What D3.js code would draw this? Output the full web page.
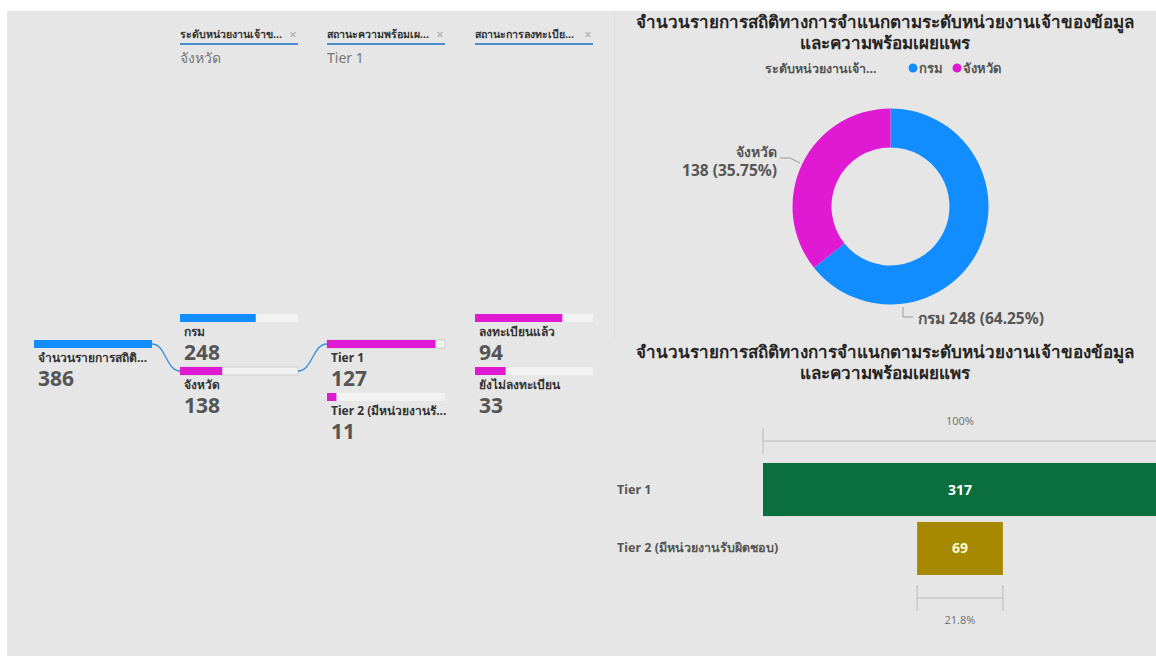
<!DOCTYPE html>
<html><head><meta charset="utf-8">
<script src="https://cdn.jsdelivr.net/npm/d3@7"></script>
<style>
html,body{margin:0;padding:0;background:#fff;}
svg{display:block;font-family:"Noto Sans","Open Sans",sans-serif;}
</style></head><body>
<svg id="c" width="1156" height="657"></svg>
<script>
// ---------- DATA ----------
const filterHeaders = ["ระดับหน่วยงานเจ้าข...", "สถานะความพร้อมเผ...", "สถานะการลงทะเบีย..."];
const filterValues = ["จังหวัด", "Tier 1", ""];
const rootLabel = "จำนวนรายการสถิติ...";
const rootValue = 386;
const levelCategories = ["กรม", "จังหวัด"];
const levelValues = [248, 138];
const tierCategories = ["Tier 1", "Tier 2 (มีหน่วยงานรั..."];
const tierValues = [127, 11];
const regCategories = ["ลงทะเบียนแล้ว", "ยังไม่ลงทะเบียน"];
const regValues = [94, 33];
const chartTitle = ["จำนวนรายการสถิติทางการจำแนกตามระดับหน่วยงานเจ้าของข้อมูล", "และความพร้อมเผยแพร"];
const legendTitle = "ระดับหน่วยงานเจ้า...";
const donutCategories = ["กรม", "จังหวัด"];
const donutValues = [248, 138];
const funnelCategories = ["Tier 1", "Tier 2 (มีหน่วยงานรับผิดชอบ)"];
const funnelValues = [317, 69];

const BLUE = "#118DFF", MAG = "#E01AD2", GREEN = "#0B6E3D", GOLD = "#A68900";
const svg = d3.select("#c");
svg.append("rect").attr("x",7).attr("y",11).attr("width",1149).attr("height",645).attr("fill","#e6e6e6");
svg.append("line").attr("x1",614.5).attr("x2",614.5).attr("y1",11).attr("y2",338).attr("stroke","#dedede");

// ---------- DECOMPOSITION TREE ----------
const headerX = [180, 327, 475];
const headerW = 118;
filterHeaders.forEach((h,i)=>{
  const g = svg.append("g").attr("transform",`translate(${headerX[i]},0)`);
  g.append("text").attr("x",0).attr("y",38).text(h).attr("font-size",10.6).attr("font-weight","bold").attr("fill","#333");
  g.append("text").attr("x",headerW-5).attr("y",39).text("×").attr("font-size",13).attr("fill","#aaa").attr("text-anchor","middle");
  g.append("line").attr("x1",0).attr("x2",headerW).attr("y1",44).attr("y2",44).attr("stroke","#4a90d0").attr("stroke-width",2);
  g.append("text").attr("x",0).attr("y",63).text(filterValues[i]).attr("font-size",14).attr("fill","#777");
});

const barW = 118, barH = 8;
function node(x, y, value, total, color, label, withBorder){
  const s = d3.scaleLinear().domain([0,total]).range([0,barW]);
  const g = svg.append("g").attr("transform",`translate(${x},${y})`);
  g.append("rect").attr("width",barW).attr("height",barH).attr("fill","#f2f2f2").attr("stroke",withBorder?"#c8c8c8":"none").attr("stroke-width",0.8);
  g.append("rect").attr("width",s(value)).attr("height",barH).attr("fill",color);
  g.append("text").attr("x",4).attr("y",barH+14).text(label).attr("font-size",12).attr("font-weight","bold").attr("fill","#333");
  g.append("text").attr("x",4).attr("y",barH+38).text(d3.format("d")(value)).attr("font-size",21).attr("font-weight","bold").attr("fill","#555");
}
// root
node(34, 340, rootValue, rootValue, BLUE, rootLabel, false);
// level
const levelY = [314, 367];
levelCategories.forEach((c,i)=> node(180, levelY[i], levelValues[i], rootValue, i===0?BLUE:MAG, c, i===1));
// tier
const tierY = [340, 393];
tierCategories.forEach((c,i)=> node(327, tierY[i], tierValues[i], levelValues[1], MAG, c, i===0));
// registration
const regY = [314, 367];
regCategories.forEach((c,i)=> node(475, regY[i], regValues[i], tierValues[0], MAG, c, false));

const link = d3.linkHorizontal().x(d=>d[0]).y(d=>d[1]);
[[[152,344],[180,371]], [[298,371],[327,344]]].forEach(([s,t])=>{
  svg.append("path").attr("d",link({source:s,target:t})).attr("fill","none").attr("stroke","#3a8fd6").attr("stroke-width",1.3);
});

// ---------- DONUT ----------
const titleX = 885;
chartTitle.forEach((t,i)=>{
  svg.append("text").attr("x",titleX).attr("y",28+i*21).text(t).attr("text-anchor","middle").attr("font-size",17).attr("font-weight","bold").attr("fill","#252423");
});
const lg = svg.append("g");
lg.append("text").attr("x",765).attr("y",73).text(legendTitle).attr("font-size",12.5).attr("font-weight","bold").attr("fill","#555");
const legX = [913, 957];
donutCategories.forEach((c,i)=>{
  lg.append("circle").attr("cx",legX[i]).attr("cy",68).attr("r",4.5).attr("fill",i===0?BLUE:MAG);
  lg.append("text").attr("x",legX[i]+6).attr("y",73).text(c).attr("font-size",13).attr("font-weight","bold").attr("fill","#555");
});
const cx = 890.5, cy = 206.5;
const pie = d3.pie().sort(null).value(d=>d)(donutValues);
const arc = d3.arc().innerRadius(59).outerRadius(98);
const dg = svg.append("g").attr("transform",`translate(${cx},${cy})`);
dg.selectAll("path").data(pie).join("path").attr("d",arc).attr("fill",(d,i)=>i===0?BLUE:MAG);
const total = d3.sum(donutValues);
const pct = v => d3.format(".2f")(v/total*100)+"%";
// labels
svg.append("polyline").attr("points","780,158 790,158 800,163").attr("fill","none").attr("stroke","#999");
svg.append("text").attr("x",777).attr("y",157).text(donutCategories[1]).attr("text-anchor","end").attr("font-size",14).attr("font-weight","bold").attr("fill","#555");
svg.append("text").attr("x",777).attr("y",176).text(`${donutValues[1]} (${pct(donutValues[1])})`).attr("text-anchor","end").attr("font-size",15.5).attr("font-weight","bold").attr("fill","#555");
svg.append("polyline").attr("points","903,307 903,317 913,317").attr("fill","none").attr("stroke","#999");
svg.append("text").attr("x",918).attr("y",324).text(`${donutCategories[0]} ${donutValues[0]} (${pct(donutValues[0])})`).attr("font-size",15.5).attr("font-weight","bold").attr("fill","#555");

// ---------- FUNNEL ----------
chartTitle.forEach((t,i)=>{
  svg.append("text").attr("x",titleX).attr("y",358+i*21).text(t).attr("text-anchor","middle").attr("font-size",17).attr("font-weight","bold").attr("fill","#252423");
});
const fcx = 960, fullW = 394;
const fx = d3.scaleLinear().domain([0, d3.max(funnelValues)]).range([0, fullW]);
const fy = d3.scaleBand().domain(funnelCategories).range([463, 575]).paddingInner(0.1);
const fg = svg.append("g");
fg.selectAll("rect").data(funnelValues).join("rect")
  .attr("x",d=>fcx-fx(d)/2).attr("width",d=>fx(d))
  .attr("y",(d,i)=>fy(funnelCategories[i])).attr("height",fy.bandwidth())
  .attr("fill",(d,i)=>i===0?GREEN:GOLD);
fg.selectAll("text.v").data(funnelValues).join("text").attr("class","v")
  .attr("x",fcx).attr("y",(d,i)=>fy(funnelCategories[i])+fy.bandwidth()/2+5)
  .attr("text-anchor","middle").attr("font-size",14).attr("font-weight","bold")
  .attr("fill",(d,i)=>i===0?"#fff":"#fff8d0").text(d=>d);
fg.selectAll("text.c").data(funnelCategories).join("text").attr("class","c")
  .attr("x",617).attr("y",c=>fy(c)+fy.bandwidth()/2+4)
  .attr("font-size",12.5).attr("font-weight","bold").attr("fill","#555").text(c=>c);
// brackets
function bracket(v, y, label, ly){
  const x0 = fcx-fx(v)/2, x1 = fcx+fx(v)/2;
  fg.append("line").attr("x1",x0).attr("x2",x1).attr("y1",y).attr("y2",y).attr("stroke","#bbb");
  fg.append("line").attr("x1",x0).attr("x2",x0).attr("y1",y-13).attr("y2",y+13).attr("stroke","#bbb");
  fg.append("line").attr("x1",x1).attr("x2",x1).attr("y1",y-13).attr("y2",y+13).attr("stroke","#bbb");
  fg.append("text").attr("x",fcx).attr("y",ly).attr("text-anchor","middle").attr("font-size",11).attr("fill","#777").text(label);
}
bracket(funnelValues[0], 441, "100%", 425);
bracket(funnelValues[1], 598, d3.format(".1f")(funnelValues[1]/funnelValues[0]*100)+"%", 624);
</script>
</body></html>
